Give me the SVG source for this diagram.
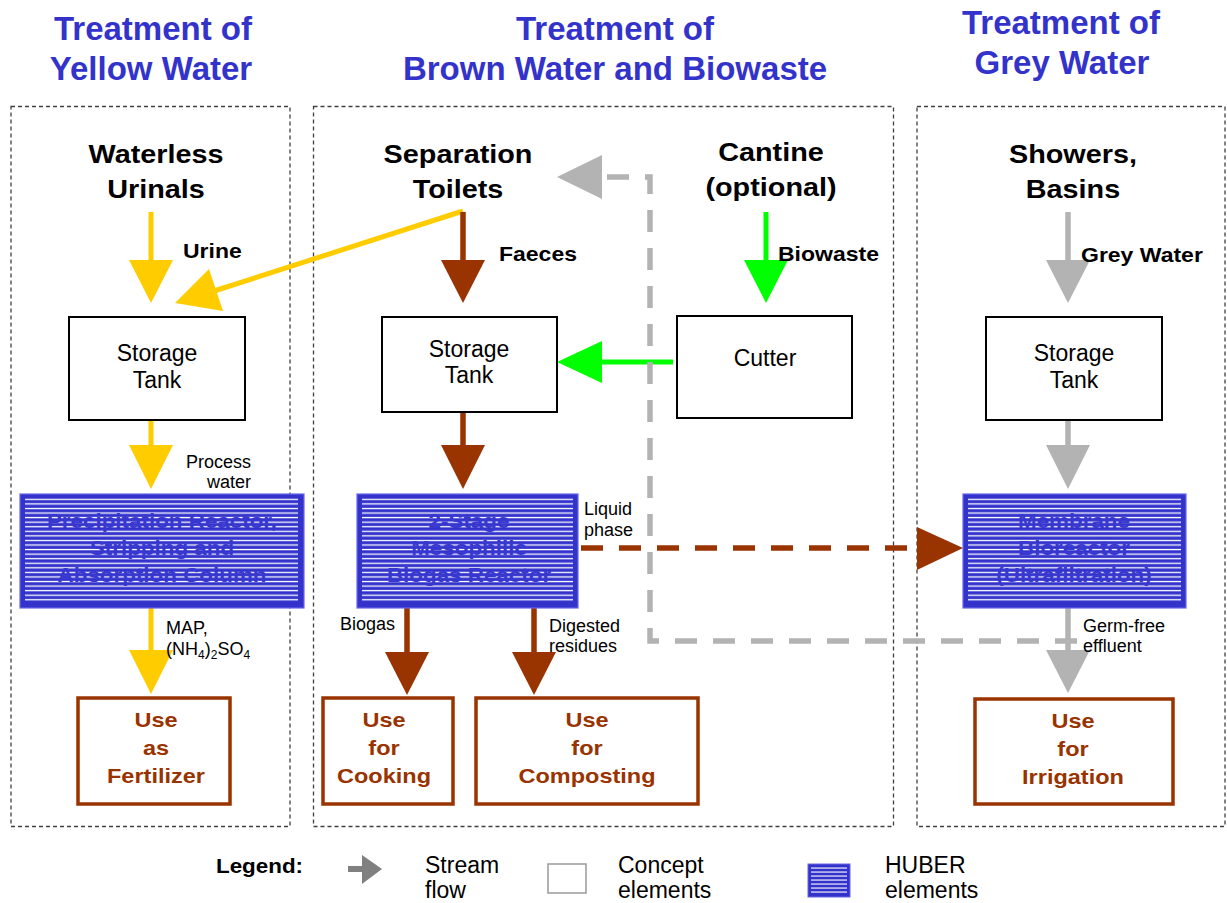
<svg xmlns="http://www.w3.org/2000/svg" width="1227" height="903" viewBox="0 0 1227 903">
<style>
text{font-family:"Liberation Sans",Arial,Helvetica,sans-serif}
.t{font-size:33px;font-weight:bold;fill:#3333cc;text-anchor:middle}
.n{font-size:25.5px;font-weight:bold;fill:#000;text-anchor:middle}
.lb{font-size:20px;font-weight:bold;fill:#000}
.r{font-size:23px;fill:#000;text-anchor:middle}
.s{font-size:18px;fill:#000}
.u{font-size:21px;font-weight:bold;fill:#993300;text-anchor:middle}
.h{font-size:20px;font-weight:bold;fill:#3838d0;text-anchor:middle}
.lg{font-size:23px;fill:#000}
.panel{fill:none;stroke:#404040;stroke-width:1.3;stroke-dasharray:4 3}
.box{fill:#fff;stroke:#000;stroke-width:2}
.use{fill:#fff;stroke:#993300;stroke-width:3.5}
.hub{fill:#3333cc;stroke:#6666e6;stroke-width:1.2}
.yl{stroke:#ffcc00;stroke-width:5;fill:none}
.yf{fill:#ffcc00}
.bl{stroke:#993300;stroke-width:5.5;fill:none}
.bf{fill:#993300}
.gl{stroke:#00ff00;stroke-width:5;fill:none}
.gf{fill:#00ff00}
.al{stroke:#b3b3b3;stroke-width:5.5;fill:none}
.af{fill:#b3b3b3}
.dash{stroke-dasharray:22 16}
</style>
<defs>
<pattern id="hl" patternUnits="userSpaceOnUse" x="0" y="497" width="10" height="4.565">
<rect x="0" y="1.7" width="10" height="1.3" fill="#ffffff"/>
</pattern>
<pattern id="hl2" patternUnits="userSpaceOnUse" x="0" y="866" width="10" height="4">
<rect x="0" y="1.5" width="10" height="1.1" fill="#ffffff"/>
</pattern>
</defs>

<g id="titles">
<text class="t" x="153" y="40">Treatment of</text>
<text class="t" x="151" y="80">Yellow Water</text>
<text class="t" x="615" y="40">Treatment of</text>
<text class="t" x="615" y="80">Brown Water and Biowaste</text>
<text class="t" x="1061" y="34">Treatment of</text>
<text class="t" x="1062" y="74">Grey Water</text>
</g>

<g id="panels">
<rect class="panel" x="11" y="106.5" width="279" height="720"/>
<rect class="panel" x="313.5" y="106.5" width="580" height="720"/>
<rect class="panel" x="917" y="106.5" width="308" height="720"/>
</g>

<g id="connectors">
<line class="yl" x1="151" y1="212" x2="151" y2="262"/>
<polygon class="yf" points="129,260 173,260 151,303"/>
<line class="yl" x1="463" y1="211" x2="214" y2="291"/>
<polygon class="yf" points="175,303 209,269 223,311"/>
<line class="yl" x1="151" y1="420" x2="151" y2="447"/>
<polygon class="yf" points="129,445 173,445 151,489"/>
<line class="yl" x1="151" y1="608" x2="151" y2="652"/>
<polygon class="yf" points="129,650 173,650 151,694"/>
<line class="bl" x1="463" y1="212" x2="463" y2="262"/>
<polygon class="bf" points="441,260 485,260 463,303"/>
<line class="bl" x1="463" y1="412" x2="463" y2="447"/>
<polygon class="bf" points="441,445 485,445 463,489"/>
<line class="bl" x1="407" y1="608" x2="407" y2="654"/>
<polygon class="bf" points="385,652 429,652 407,695"/>
<line class="bl" x1="534" y1="608" x2="534" y2="654"/>
<polygon class="bf" points="512,652 556,652 534,695"/>
<line class="bl dash" x1="581" y1="548" x2="917" y2="548"/>
<polygon class="bf" points="917,527 917,570 963,548"/>
<line class="gl" x1="766" y1="212" x2="766" y2="262"/>
<polygon class="gf" points="744,260 788,260 766,303"/>
<line class="gl" x1="673" y1="362" x2="600" y2="362"/>
<polygon class="gf" points="602,341 602,383 557,362"/>
<line class="al" x1="1068" y1="212" x2="1068" y2="262"/>
<polygon class="af" points="1046,260 1090,260 1068,303"/>
<line class="al" x1="1068" y1="420" x2="1068" y2="447"/>
<polygon class="af" points="1046,445 1090,445 1068,489"/>
<line class="al" x1="1068" y1="608" x2="1068" y2="652"/>
<polygon class="af" points="1046,650 1090,650 1068,693"/>
<polyline class="al dash" points="1077,641 650,641 650,177 600,177"/>
<polygon class="af" points="602,155 602,199 557,177"/>
</g>

<g id="waterless-urinals">
<text class="n" transform="translate(156 163) scale(1.13 1)">Waterless</text>
<text class="n" transform="translate(156 198) scale(1.13 1)">Urinals</text>
</g>
<g id="separation-toilets">
<text class="n" transform="translate(458 163) scale(1.13 1)">Separation</text>
<text class="n" transform="translate(458 198) scale(1.13 1)">Toilets</text>
</g>
<g id="cantine">
<text class="n" transform="translate(771 161) scale(1.13 1)">Cantine</text>
<text class="n" transform="translate(771 196) scale(1.13 1)">(optional)</text>
</g>
<g id="showers-basins">
<text class="n" transform="translate(1073 163) scale(1.13 1)">Showers,</text>
<text class="n" transform="translate(1073 198) scale(1.13 1)">Basins</text>
</g>

<g id="flow-labels">
<text class="lb" transform="translate(183 258) scale(1.15 1)">Urine</text>
<text class="lb" transform="translate(499 261) scale(1.15 1)">Faeces</text>
<text class="lb" transform="translate(778 261) scale(1.15 1)">Biowaste</text>
<text class="lb" transform="translate(1081 262) scale(1.15 1)">Grey Water</text>
<text class="s" x="251" y="468" text-anchor="end">Process</text>
<text class="s" x="251" y="488" text-anchor="end">water</text>
<text class="s" x="166" y="634">MAP,</text>
<text class="s" x="166" y="655">(NH<tspan font-size="12" dy="4">4</tspan><tspan dy="-4">)</tspan><tspan font-size="12" dy="4">2</tspan><tspan dy="-4">SO</tspan><tspan font-size="12" dy="4">4</tspan></text>
<text class="s" x="584" y="515">Liquid</text>
<text class="s" x="584" y="536">phase</text>
<text class="s" x="340" y="630">Biogas</text>
<text class="s" x="549" y="632">Digested</text>
<text class="s" x="549" y="652">residues</text>
<text class="s" x="1083" y="632">Germ-free</text>
<text class="s" x="1083" y="652">effluent</text>
</g>

<g id="storage-tank-yellow">
<rect class="box" x="69" y="317" width="176" height="103"/>
<text class="r" x="157" y="361">Storage</text>
<text class="r" x="157" y="388">Tank</text>
</g>
<g id="storage-tank-brown">
<rect class="box" x="382" y="317" width="175" height="95"/>
<text class="r" x="469" y="357">Storage</text>
<text class="r" x="469" y="383">Tank</text>
</g>
<g id="cutter">
<rect class="box" x="677" y="316" width="175" height="102"/>
<text class="r" x="765" y="366">Cutter</text>
</g>
<g id="storage-tank-grey">
<rect class="box" x="986" y="317" width="176" height="103"/>
<text class="r" x="1074" y="361">Storage</text>
<text class="r" x="1074" y="388">Tank</text>
</g>

<g id="precipitation-reactor">
<rect class="hub" x="20" y="494" width="284" height="114"/>
<rect x="25" y="497" width="273" height="106" fill="url(#hl)"/>
<text class="h" transform="translate(162 528) scale(1.12 1)">Precipitation Reactor,</text>
<text class="h" transform="translate(162 555) scale(1.12 1)">Stripping and</text>
<text class="h" transform="translate(162 582) scale(1.12 1)">Absorption Column</text>
</g>
<g id="biogas-reactor">
<rect class="hub" x="357" y="494" width="221" height="114"/>
<rect x="362" y="497" width="211" height="106" fill="url(#hl)"/>
<text class="h" transform="translate(469 528) scale(1.12 1)">2-Stage</text>
<text class="h" transform="translate(469 555) scale(1.12 1)">Mesophilic</text>
<text class="h" transform="translate(469 582) scale(1.12 1)">Biogas Reactor</text>
</g>
<g id="membrane-bioreactor">
<rect class="hub" x="963" y="494" width="223" height="114"/>
<rect x="968" y="497" width="213" height="106" fill="url(#hl)"/>
<text class="h" transform="translate(1074 528) scale(1.12 1)">Membrane</text>
<text class="h" transform="translate(1074 555) scale(1.12 1)">Bioreactor</text>
<text class="h" transform="translate(1074 582) scale(1.12 1)">(Ultrafiltration)</text>
</g>

<g id="use-fertilizer">
<rect class="use" x="78" y="698" width="152" height="106"/>
<text class="u" transform="translate(156 727) scale(1.12 1)">Use</text>
<text class="u" transform="translate(156 755) scale(1.12 1)">as</text>
<text class="u" transform="translate(156 783) scale(1.12 1)">Fertilizer</text>
</g>
<g id="use-cooking">
<rect class="use" x="323" y="698" width="130" height="106"/>
<text class="u" transform="translate(384 727) scale(1.12 1)">Use</text>
<text class="u" transform="translate(384 755) scale(1.12 1)">for</text>
<text class="u" transform="translate(384 783) scale(1.12 1)">Cooking</text>
</g>
<g id="use-composting">
<rect class="use" x="476" y="698" width="222" height="106"/>
<text class="u" transform="translate(587 727) scale(1.12 1)">Use</text>
<text class="u" transform="translate(587 755) scale(1.12 1)">for</text>
<text class="u" transform="translate(587 783) scale(1.12 1)">Composting</text>
</g>
<g id="use-irrigation">
<rect class="use" x="975" y="699" width="198" height="105"/>
<text class="u" transform="translate(1073 728) scale(1.12 1)">Use</text>
<text class="u" transform="translate(1073 756) scale(1.12 1)">for</text>
<text class="u" transform="translate(1073 784) scale(1.12 1)">Irrigation</text>
</g>

<g id="legend">
<text class="lb" transform="translate(216 873) scale(1.12 1)">Legend:</text>
<line x1="348" y1="869" x2="364" y2="869" stroke="#808080" stroke-width="6"/>
<polygon points="362,855 362,884 382,869" fill="#808080"/>
<text class="lg" x="425" y="873">Stream</text>
<text class="lg" x="425" y="898">flow</text>
<rect x="548" y="864" width="38" height="29" fill="#fff" stroke="#999" stroke-width="1.5"/>
<text class="lg" x="618" y="873">Concept</text>
<text class="lg" x="618" y="898">elements</text>
<rect x="808" y="864" width="42" height="33" fill="#3333cc" stroke="#6666e6" stroke-width="1"/>
<rect x="811" y="866" width="36" height="29" fill="url(#hl2)"/>
<text class="lg" x="885" y="873">HUBER</text>
<text class="lg" x="885" y="898">elements</text>
</g>
</svg>
